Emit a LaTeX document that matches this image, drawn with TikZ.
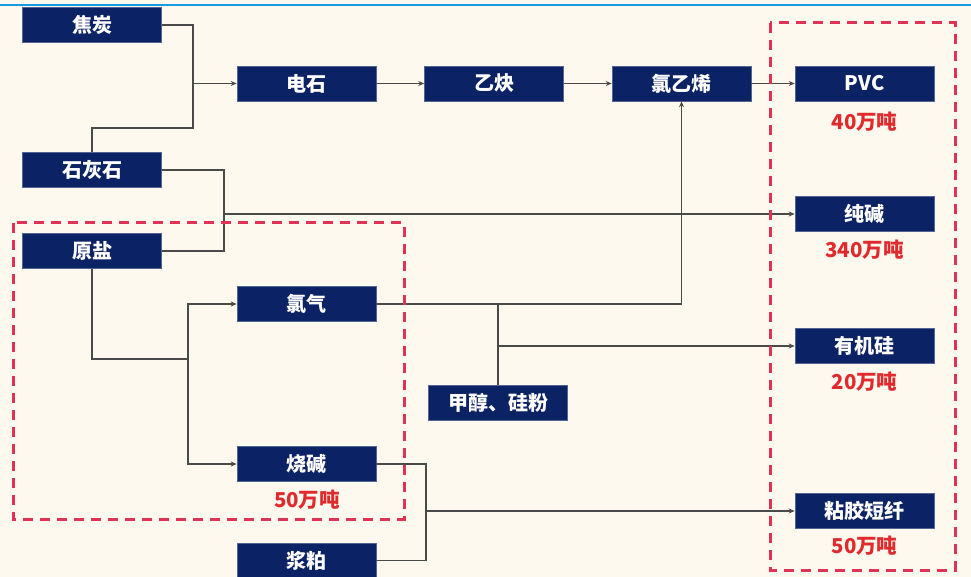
\documentclass[tikz,border=0pt]{standalone}
\usepackage{fontspec}
\setmainfont{Noto Sans CJK SC}
\usetikzlibrary{arrows.meta}
\definecolor{bg}{HTML}{FEF9EE}
\definecolor{navy}{HTML}{0B2265}
\definecolor{redt}{HTML}{E02A2E}
\definecolor{dashred}{HTML}{DE3355}
\definecolor{wirec}{HTML}{4A4A48}
\definecolor{topblue}{HTML}{1A9AE0}
\begin{document}
\begin{tikzpicture}[x=1pt,y=-1pt,
  box/.style={fill=navy, draw=navy!70!white, line width=0.6pt, minimum width=139pt, minimum height=35pt, inner sep=0pt, text=white, font=\fontsize{20}{20}\selectfont\bfseries},
  qty/.style={text=redt, font=\fontsize{20.5}{20.5}\selectfont\bfseries, inner sep=0pt},
  wire/.style={draw=wirec, line width=1.3pt},
  arr/.style={wire, -{Stealth[length=6pt,width=5pt]}},
  region/.style={draw=dashred, line width=3pt, dash pattern=on 10pt off 7pt}]
\fill[bg] (0,0) rectangle (971,577);
\useasboundingbox (0,0) rectangle (971,577);
\fill[topblue] (0,4) rectangle (971,6.5);

% nodes
\node[box] (jt) at (92,25) {焦炭};
\node[box] (ds) at (306.5,83.5) {电石};
\node[box] (shs) at (92,170) {石灰石};
\node[box] (ys) at (92,251) {原盐};
\node[box] (lq) at (306.5,304) {氯气};
\node[box] (yq) at (494,83.5) {乙炔};
\node[box] (lyx) at (681.5,83.5) {氯乙烯};
\node[box] (pvc) at (864.5,83.5) {PVC};
\node[box] (cj) at (864.5,214) {纯碱};
\node[box] (yjg) at (864.5,346) {有机硅};
\node[box] (zj) at (864.5,511) {粘胶短纤};
\node[box] (jc) at (498,402.5) {甲醇、硅粉};
\node[box] (sj) at (306.5,464) {烧碱};
\node[box] (jp) at (306.5,560.5) {浆粕};

\node[qty] (q1) at (864.5,122) {40万吨};
\node[qty] (q2) at (864.5,250) {340万吨};
\node[qty] (q3) at (864.5,382) {20万吨};
\node[qty] (q4) at (864.5,546) {50万吨};
\node[qty] (q5) at (307,500) {50万吨};

% junction coordinates
\coordinate (jn1) at (193,83.5);
\coordinate (jn2) at (224,214);
\coordinate (jn3) at (188,359);
\coordinate (jn4) at (jc.north |- lq.east);
\coordinate (jn5) at (jc.north |- yjg.west);
\coordinate (jn6) at (426,511);

\draw[wire] (jt.east) -| (193,128) -| (shs.north);
\draw[arr] (jn1) -- (ds.west);
\draw[wire] (shs.east) -| (224,251) -- (ys.east);
\draw[arr] (jn2) -- (cj.west);
\draw[wire] (ys.south) |- (jn3);
\draw[arr] (jn3) |- (lq.west);
\draw[arr] (jn3) |- (sj.west);
\draw[arr] (lq.east) -| (lyx.south);
\draw[wire] (jn4) -- (jc.north);
\draw[arr] (jn5) -- (yjg.west);
\draw[wire] (sj.east) -| (426,560.5) -- (jp.east);
\draw[arr] (jn6) -- (zj.west);
\draw[arr] (ds) -- (yq);
\draw[arr] (yq) -- (lyx);
\draw[arr] (lyx) -- (pvc);

\draw[region] (13,223) rectangle (404,519);
\draw[region] (770,23) rectangle (955,570);
\end{tikzpicture}
\end{document}
